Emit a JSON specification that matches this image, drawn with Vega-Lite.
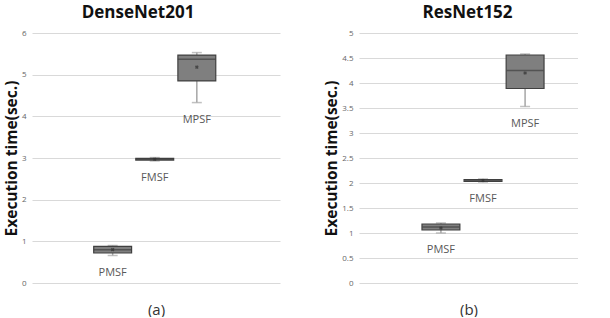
{
  "$schema": "https://vega.github.io/schema/vega-lite/v6.json",
  "padding": {"left": 4, "top": 4, "right": 0, "bottom": 0},
  "background": "white",
  "config": {
    "font": "Open Sans",
    "view": {"stroke": null},
    "axis": {"labelFont": "Open Sans", "titleFont": "Open Sans"},
    "axisY": {"titleFontSize": 15.5, "titleFontWeight": "bold", "titleColor": "#111111", "titlePadding": 2, "labelFontSize": 8, "labelColor": "#666666", "labelPadding": 6, "ticks": false, "domain": false, "gridColor": "#d9d9d9", "gridWidth": 1, "format": "~g"},
    "axisX": {"labels": false, "ticks": false, "domain": false, "grid": false, "titleFontSize": 15, "titleFontWeight": "normal", "titleColor": "#333333", "titlePadding": 19},
    "title": {"font": "Open Sans", "fontSize": 17, "fontWeight": "bold", "color": "#111111", "offset": 7}
  },
  "datasets": {
    "boxes": [
      {"model": "DenseNet201", "method": "PMSF", "min": 0.66, "q1": 0.72, "median": 0.80, "q3": 0.88, "max": 0.90, "mean": 0.80},
      {"model": "DenseNet201", "method": "FMSF", "min": 2.93, "q1": 2.95, "median": 2.97, "q3": 2.99, "max": 3.01, "mean": 2.97},
      {"model": "DenseNet201", "method": "MPSF", "min": 4.33, "q1": 4.85, "median": 5.37, "q3": 5.47, "max": 5.53, "mean": 5.18},
      {"model": "ResNet152", "method": "PMSF", "min": 1.00, "q1": 1.06, "median": 1.12, "q3": 1.18, "max": 1.20, "mean": 1.10},
      {"model": "ResNet152", "method": "FMSF", "min": 2.02, "q1": 2.03, "median": 2.05, "q3": 2.07, "max": 2.08, "mean": 2.05},
      {"model": "ResNet152", "method": "MPSF", "min": 3.53, "q1": 3.89, "median": 4.25, "q3": 4.56, "max": 4.58, "mean": 4.20}
    ]
  },
  "spacing": 44,
  "hconcat": [
    {
      "title": {"text": "DenseNet201", "dx": -18},
      "width": 248,
      "height": 250,
      "data": {"name": "boxes"},
      "transform": [{"filter": "datum.model === 'DenseNet201'"}],
      "encoding": {
        "x": {"field": "model", "type": "nominal",
              "scale": {"paddingInner": 0, "paddingOuter": 0.516, "align": 0.49},
              "axis": {"title": "(a)"}},
        "xOffset": {"field": "method", "type": "nominal", "sort": ["PMSF", "FMSF", "MPSF"],
              "scale": {"paddingInner": 0.1, "paddingOuter": 0}}
      },
      "layer": [
        {"mark": {"type": "rule", "color": "#a6a6a6", "strokeWidth": 1.5},
         "encoding": {"y": {"field": "min", "type": "quantitative", "scale": {"domain": [0, 6]},
           "axis": {"values": [0, 1, 2, 3, 4, 5, 6], "title": "Execution time(sec.)"}},
           "y2": {"field": "max"}}},
        {"mark": {"type": "tick", "color": "#a6a6a6", "thickness": 1.5, "size": 10}, "encoding": {"y": {"field": "min", "type": "quantitative", "axis": {"values": [0, 1, 2, 3, 4, 5, 6], "title": "Execution time(sec.)"}}}},
        {"mark": {"type": "tick", "color": "#a6a6a6", "thickness": 1.5, "size": 10}, "encoding": {"y": {"field": "max", "type": "quantitative", "axis": {"values": [0, 1, 2, 3, 4, 5, 6], "title": "Execution time(sec.)"}}}},
        {"mark": {"type": "bar", "color": "#7f7f7f", "stroke": "#404040", "strokeWidth": 1.2},
         "encoding": {"y": {"field": "q1", "type": "quantitative", "axis": {"values": [0, 1, 2, 3, 4, 5, 6], "title": "Execution time(sec.)"}}, "y2": {"field": "q3"}}},
        {"mark": {"type": "tick", "color": "#404040", "thickness": 1.5, "size": 38}, "encoding": {"y": {"field": "median", "type": "quantitative", "axis": {"values": [0, 1, 2, 3, 4, 5, 6], "title": "Execution time(sec.)"}}}},
        {"mark": {"type": "point", "shape": "cross", "angle": 45, "filled": true, "color": "#303030", "size": 14}, "encoding": {"y": {"field": "mean", "type": "quantitative", "axis": {"values": [0, 1, 2, 3, 4, 5, 6], "title": "Execution time(sec.)"}}}},
        {"mark": {"type": "text", "color": "#595959", "fontSize": 11, "baseline": "top", "dy": 11}, "encoding": {"y": {"field": "min", "type": "quantitative", "axis": {"values": [0, 1, 2, 3, 4, 5, 6], "title": "Execution time(sec.)"}}, "text": {"field": "method"}}}
      ]
    },
    {
      "title": {"text": "ResNet152", "dx": -1},
      "width": 219,
      "height": 250,
      "data": {"name": "boxes"},
      "transform": [{"filter": "datum.model === 'ResNet152'"}],
      "encoding": {
        "x": {"field": "model", "type": "nominal",
              "scale": {"paddingInner": 0, "paddingOuter": 0.42, "align": 0.63},
              "axis": {"title": "(b)"}},
        "xOffset": {"field": "method", "type": "nominal", "sort": ["PMSF", "FMSF", "MPSF"],
              "scale": {"paddingInner": 0.1, "paddingOuter": 0}}
      },
      "layer": [
        {"mark": {"type": "rule", "color": "#a6a6a6", "strokeWidth": 1.5},
         "encoding": {"y": {"field": "min", "type": "quantitative", "scale": {"domain": [0, 5]},
           "axis": {"values": [0, 0.5, 1, 1.5, 2, 2.5, 3, 3.5, 4, 4.5, 5], "title": "Execution time(sec.)"}},
           "y2": {"field": "max"}}},
        {"mark": {"type": "tick", "color": "#a6a6a6", "thickness": 1.5, "size": 10}, "encoding": {"y": {"field": "min", "type": "quantitative", "axis": {"values": [0, 0.5, 1, 1.5, 2, 2.5, 3, 3.5, 4, 4.5, 5], "title": "Execution time(sec.)"}}}},
        {"mark": {"type": "tick", "color": "#a6a6a6", "thickness": 1.5, "size": 10}, "encoding": {"y": {"field": "max", "type": "quantitative", "axis": {"values": [0, 0.5, 1, 1.5, 2, 2.5, 3, 3.5, 4, 4.5, 5], "title": "Execution time(sec.)"}}}},
        {"mark": {"type": "bar", "color": "#7f7f7f", "stroke": "#404040", "strokeWidth": 1.2},
         "encoding": {"y": {"field": "q1", "type": "quantitative", "axis": {"values": [0, 0.5, 1, 1.5, 2, 2.5, 3, 3.5, 4, 4.5, 5], "title": "Execution time(sec.)"}}, "y2": {"field": "q3"}}},
        {"mark": {"type": "tick", "color": "#404040", "thickness": 1.5, "size": 37}, "encoding": {"y": {"field": "median", "type": "quantitative", "axis": {"values": [0, 0.5, 1, 1.5, 2, 2.5, 3, 3.5, 4, 4.5, 5], "title": "Execution time(sec.)"}}}},
        {"mark": {"type": "point", "shape": "cross", "angle": 45, "filled": true, "color": "#303030", "size": 14}, "encoding": {"y": {"field": "mean", "type": "quantitative", "axis": {"values": [0, 0.5, 1, 1.5, 2, 2.5, 3, 3.5, 4, 4.5, 5], "title": "Execution time(sec.)"}}}},
        {"mark": {"type": "text", "color": "#595959", "fontSize": 11, "baseline": "top", "dy": 11}, "encoding": {"y": {"field": "min", "type": "quantitative", "axis": {"values": [0, 0.5, 1, 1.5, 2, 2.5, 3, 3.5, 4, 4.5, 5], "title": "Execution time(sec.)"}}, "text": {"field": "method"}}}
      ]
    }
  ]
}
